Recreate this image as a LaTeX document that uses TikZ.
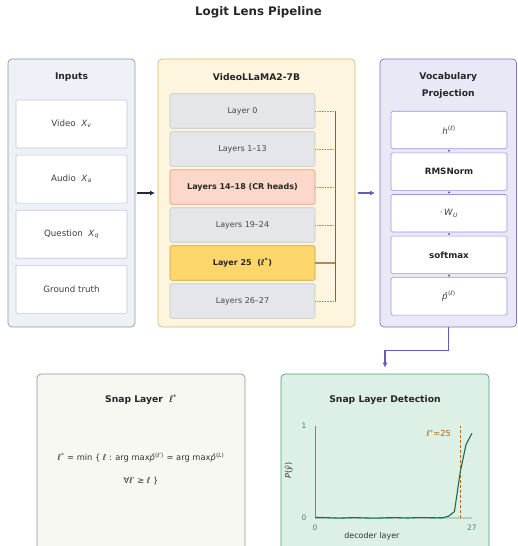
\documentclass[tikz,border=0pt]{standalone}
\usepackage{fontspec}
\setmainfont{DejaVu Sans}
\usepackage{xcolor}
\usetikzlibrary{arrows.meta,positioning}
\definecolor{inFill}{HTML}{EEF2F8}
\definecolor{inEdge}{HTML}{8C97A8}
\definecolor{inBox}{HTML}{BCC8D8}
\definecolor{llmFill}{HTML}{FEF5DF}
\definecolor{llmEdge}{HTML}{D6B96E}
\definecolor{layFill}{HTML}{E5E6EA}
\definecolor{layEdge}{HTML}{C5C7CC}
\definecolor{crFill}{HTML}{FBD8C9}
\definecolor{crEdge}{HTML}{E39A82}
\definecolor{snapFill}{HTML}{FDD66C}
\definecolor{snapEdge}{HTML}{CFA23A}
\definecolor{vocFill}{HTML}{E9E8F6}
\definecolor{vocEdge}{HTML}{8272CC}
\definecolor{vocBox}{HTML}{A093DE}
\definecolor{purp}{HTML}{6B57C2}
\definecolor{navy}{HTML}{1F2B3D}
\definecolor{tanline}{HTML}{B58A4E}
\definecolor{sumFill}{HTML}{F8F8F3}
\definecolor{sumEdge}{HTML}{8E9298}
\definecolor{detFill}{HTML}{DDF0E5}
\definecolor{detEdge}{HTML}{4F9B7E}
\definecolor{curveCol}{HTML}{1C6B50}
\definecolor{axisCol}{HTML}{4E9C7E}
\definecolor{tickCol}{HTML}{3E8A6E}
\definecolor{markCol}{HTML}{B8660C}
\tikzset{
	panel/.style = {draw, rounded corners=4pt, line width=0.7pt},
	maintitle/.style = {font=\bfseries\fontsize{11.8}{13}\selectfont, text=black!85},
	paneltitle/.style = {font=\bfseries\fontsize{9.2}{11}\selectfont, text=black!85, align=center},
	inbox/.style = {draw=inBox, fill=white, line width=0.6pt, rounded corners=1pt, minimum width=111, minimum height=48, font=\fontsize{8.7}{10}\selectfont, text=black!75},
	laybox/.style = {draw=layEdge, fill=layFill, line width=0.6pt, rounded corners=1.5pt, minimum width=145, minimum height=34.5, font=\fontsize{8}{9}\selectfont, text=black!72},
	vocbox/.style = {draw=vocBox, fill=white, line width=0.6pt, rounded corners=1.5pt, minimum width=116, minimum height=37.5, font=\fontsize{8.7}{10}\selectfont, text=black!75},
	dotline/.style = {purp!75, densely dotted, line width=0.6pt},
	ticklab/.style = {font=\fontsize{7.5}{9}\selectfont, text=tickCol}
}
\begin{document}
\begin{tikzpicture}[x=1pt, y=-1pt, >=Latex]
	\useasboundingbox (0,0) rectangle (517,546);
	\node[maintitle] (title) at (258.5,12) {Logit Lens Pipeline};
	% inputs
	\node[panel, fill=inFill, draw=inEdge, minimum width=127, minimum height=268] (inputs) at (71.5,193) {};
	\node[paneltitle] (intitle) at ([yshift=-18pt]inputs.north) {Inputs};
	\node[inbox] (in1) at (71.5,124) {Video\ \ \textit{X}\textsubscript{\textit{v}}};
	\node[inbox, below=6.5pt of in1] (in2) {Audio\ \ \textit{X}\textsubscript{\textit{a}}};
	\node[inbox, below=6.5pt of in2] (in3) {Question\ \ \textit{X}\textsubscript{\textit{q}}};
	\node[inbox, below=6.5pt of in3] (in4) {Ground truth};
	% model
	\node[panel, fill=llmFill, draw=llmEdge, minimum width=197, minimum height=268] (llm) at (256.5,193) {};
	\node[paneltitle] (llmtitle) at ([yshift=-18pt]llm.north) {VideoLLaMA2-7B};
	\node[laybox] (l0) at (242.5,111) {Layer 0};
	\node[laybox, below=2.9pt of l0] (l1) {Layers 1–13};
	\node[laybox, below=2.9pt of l1, fill=crFill, draw=crEdge, font=\bfseries\fontsize{8}{9}\selectfont, text=black!85] (l2) {Layers 14–18 (CR heads)};
	\node[laybox, below=2.9pt of l2] (l3) {Layers 19–24};
	\node[laybox, below=2.9pt of l3, fill=snapFill, draw=snapEdge, font=\bfseries\fontsize{8}{9}\selectfont, text=black!85] (l4) {Layer 25\ \ (\textit{ℓ}\textsuperscript{*})};
	\node[laybox, below=2.9pt of l4] (l5) {Layers 26–27};
	\coordinate (bus) at (335,0);
	\foreach \n in {l0,l1,l2,l3,l5}
		\draw[dotline] (\n.east) -- (\n.east -| bus);
	\draw[tanline, line width=1.2pt] (l4.east) -- (l4.east -| bus);
	\draw[purp, line width=0.8pt] (l0.east -| bus) -- (l5.east -| bus);
	% projection
	\node[panel, fill=vocFill, draw=vocEdge, minimum width=136.5, minimum height=268] (vocab) at (448.25,193) {};
	\node[paneltitle] (voctitle) at ([yshift=-27pt]vocab.north) {Vocabulary\\[6pt]Projection};
	\node[vocbox] (v1) at (449,130) {\textit{h}\textsuperscript{(\textit{ℓ})}};
	\node[vocbox, below=3.5pt of v1, font=\bfseries\fontsize{8.7}{10}\selectfont, text=black!85] (v2) {RMSNorm};
	\node[vocbox, below=3.5pt of v2] (v3) {·\,\textit{W}\textsubscript{\textit{U}}};
	\node[vocbox, below=3.5pt of v3, font=\bfseries\fontsize{8.7}{10}\selectfont, text=black!85] (v4) {softmax};
	\node[vocbox, below=3.5pt of v4] (v5) {\textit{\^p}\textsuperscript{(\textit{ℓ})}};
	\foreach \a/\b in {v1/v2,v2/v3,v3/v4,v4/v5}
		\path (\a.south) -- (\b.north) node[midway, circle, fill=purp, inner sep=0pt, minimum size=2.3pt] {};
	% bottom row
	\node[panel, fill=sumFill, draw=sumEdge, minimum width=208, minimum height=182] (snap) at (141,465) {};
	\node[paneltitle] (snaptitle) at ([yshift=-26pt]snap.north) {Snap Layer\ \ \mdseries\textit{ℓ}\textsuperscript{*}};
	\node[font=\fontsize{8.3}{10}\selectfont, text=black!80, align=center] (rule) at (141,469)
		{\textit{ℓ}\textsuperscript{*} = min \{ \textit{ℓ} : arg max\textit{\^p}\textsuperscript{(\textit{ℓ}′)} = arg max\textit{\^p}\textsuperscript{(\textit{L})}\\[13pt]
		∀\textit{ℓ}′ ≥ \textit{ℓ} \}};
	\node[panel, fill=detFill, draw=detEdge, minimum width=208, minimum height=182] (detect) at (385,465) {};
	\node[paneltitle] (dettitle) at ([yshift=-26pt]detect.north) {Snap Layer Detection};
	% arrows
	\draw[navy, line width=1.2pt, -{Latex[length=5pt,width=5pt]}] (inputs.east) ++(2,0) coordinate (a0) -- (llm.west -| 155,0);
	\draw[purp, line width=1.2pt, -{Latex[length=5pt,width=5pt]}] (llm.east) ++(3,0) coordinate (b0) -- (vocab.west -| 375,0);
	\draw[purp, line width=1.1pt, -{Latex[length=5pt,width=5pt]}] (vocab.south) -- ++(0,23) -| ([yshift=6pt]detect.north);
	% plot
	\begin{scope}[shift={(315,518)}, x=5.81pt, y=92pt]
		\coordinate (o) at (0,0);
		\coordinate (ytop) at (0,1);
		\coordinate (xend) at (27,0);
		\draw[axisCol!45, line width=1.6pt] (o) -- (xend);
		\draw[axisCol, line width=0.6pt] (o) -- (ytop);
		\draw[markCol, densely dashed, line width=0.8pt] (25,0) coordinate (m0) -- (25,1) coordinate (m1);
		\draw[curveCol, line width=1.1pt, line join=round] plot coordinates {(0,0.005) (1,0.006) (2,0.004) (3,0.001) (4,-0.001) (5,0.0) (6,0.003) (7,0.004) (8,0.002) (9,0.0) (10,-0.002) (11,-0.001) (12,0.002) (13,0.003) (14,0.004) (15,0.002) (16,0.0) (17,0.003) (18,0.005) (19,0.004) (20,0.003) (21,0.002) (22,0.003) (23,0.02) (24,0.07) (25,0.5) (26,0.8) (27,0.92)};
		\node[ticklab, left=5pt of ytop] (y1) {1};
		\node[ticklab, left=5pt of o] (y0) {0};
		\node[ticklab, below=3pt of o] (x0) {0};
		\node[ticklab, below=3pt of xend] (x27) {27};
		\node[font=\fontsize{8}{9}\selectfont, text=black!80] (xname) at (9.8,-0.2) {decoder layer};
		\node[font=\fontsize{8}{9}\selectfont, text=black!80, rotate=90] (yname) at (-4.5,0.52) {\textit{P}(\textit{\^y})};
		\node[font=\fontsize{8.3}{9}\selectfont, text=markCol] (starlab) at (21.3,0.92) {\textit{ℓ}\textsuperscript{*}=25};
	\end{scope}
\end{tikzpicture}
\end{document}
